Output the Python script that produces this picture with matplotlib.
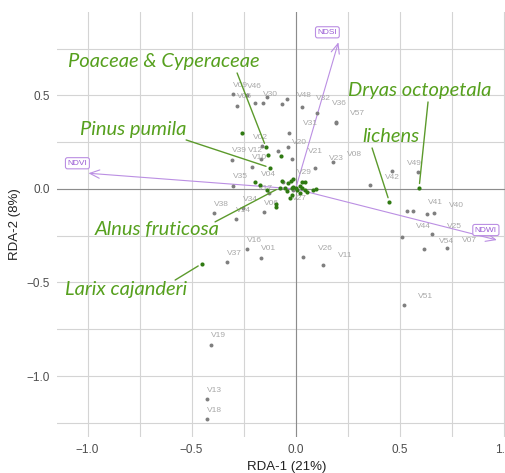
import numpy as np
import matplotlib
matplotlib.use('Agg')
import matplotlib.pyplot as plt

# site scores (RDA-1, RDA-2); empty name = unlabeled site
site_names = ['V09', 'V46', 'V05', '', 'V30', '', '', '', 'V48', 'V32', 'V36', 'V57',
              'V31', '', 'V20', 'V21', 'V23', 'V29', 'V08', 'V42', 'V49', '', '',
              'V41', 'V40', 'V44', 'V25', 'V54', 'V07', 'V51', 'V39', 'V12', 'V10',
              'V02', 'V35', 'V04', 'V17', 'V27', 'V38', 'V34', 'V14', 'V06', 'V16',
              'V37', 'V01', 'V26', 'V11', 'V19', 'V13', 'V18']
site_x = [-0.302, -0.232, -0.283, -0.195, -0.155, -0.136, -0.066, -0.042, 0.030, 0.103, 0.193, 0.195,
          -0.031, -0.086, -0.038, -0.015, 0.182, 0.094, 0.358, 0.462, 0.590, 0.535, 0.563,
          0.634, 0.666, 0.511, 0.655, 0.618, 0.730, 0.522, -0.304, -0.167, -0.211,
          -0.160, -0.302, -0.062, -0.130, -0.012, -0.390, -0.251, -0.288, -0.151, -0.232,
          -0.331, -0.166, 0.035, 0.134, -0.408, -0.424, -0.427]
site_y = [0.506, 0.501, 0.444, 0.461, 0.458, 0.494, 0.453, 0.481, 0.437, 0.405, 0.358, 0.355,
          0.301, 0.203, 0.223, 0.159, 0.146, 0.114, 0.021, 0.096, 0.090, -0.118, -0.118,
          -0.134, -0.130, -0.255, -0.242, -0.321, -0.316, -0.620, 0.155, 0.160, 0.119,
          0.230, 0.016, 0.037, -0.020, -0.005, -0.130, -0.103, -0.162, -0.125, -0.321,
          -0.392, -0.367, -0.365, -0.405, -0.834, -1.125, -1.232]

# species scores
species_x = [-0.066, -0.022, -0.011, -0.038, -0.050, -0.075, -0.042, -0.018, -0.011, 0.001,
             0.006, 0.022, 0.030, 0.030, 0.046, 0.054, 0.086, 0.099, -0.018, -0.026, 0.022,
             -0.094, -0.094, -0.123, -0.259, -0.142, -0.134, -0.071, -0.195, -0.171, -0.136,
             -0.451, 0.451, 0.594, 0.046]
species_y = [0.043, 0.043, 0.052, 0.030, 0.007, 0.007, -0.011, 0.004, 0.012, 0.004,
             -0.005, 0.016, 0.004, 0.039, -0.005, -0.014, -0.005, 0.000, -0.032, -0.050, -0.020,
             -0.082, -0.095, 0.114, 0.300, 0.223, 0.182, 0.176, 0.039, 0.021, -0.005,
             -0.400, -0.068, 0.007, 0.036]

# highlighted species: name, index of species point
highlight_names = ['Poaceae & Cyperaceae', 'Pinus pumila', 'Alnus fruticosa',
                   'Larix cajanderi', 'Dryas octopetala', 'lichens']
highlight_idx = [25, 23, 5, 31, 33, 32]

# environmental vectors
env_names = ['NDVI', 'NDSI', 'NDWI']
env_x = [-0.996, 0.206, 0.968]
env_y = [0.084, 0.784, -0.273]

# --- layout (label placement) ---
label_offsets = {
    'V48': (-5, 12), 'V32': (-1, 15), 'V36': (-4, 18), 'V57': (14, 9), 'V31': (14, 9),
    'V20': (4, 5), 'V21': (16, 8), 'V23': (-4, 3), 'V29': (-18, -5), 'V08': (-23, 31),
    'V42': (-7, -6), 'V49': (-11, 9), 'V41': (1, 12), 'V40': (15, 8), 'V44': (14, 10),
    'V25': (15, 8), 'V54': (15, 8), 'V07': (15, 8), 'V51': (14, 8), 'V12': (-13, 9),
    'V02': (-9, 8), 'V04': (-22, 8), 'V17': (-11, 4), 'V27': (-1, -9), 'V26': (15, 9),
    'V11': (15, 9),
}
highlight_text_pos = [(-1.094, 0.679), (-1.036, 0.316), (-0.964, -0.219),
                      (-1.108, -0.540), (0.252, 0.529), (0.320, 0.278)]
highlight_line_start = [(-0.281, 0.620), (-0.526, 0.262), (-0.387, -0.176),
                        (-0.579, -0.487), (0.637, 0.465), (0.368, 0.219)]

purple = '#bb8fe3'
purple_txt = '#9a5cd4'
green_txt = '#56a01e'
green_pt = '#2f7a12'
green_line = '#5c9a2c'

fig = plt.figure(figsize=(5.05, 4.73), dpi=100)
ax = fig.add_axes([57 / 505, 36 / 473, 459 / 505, 425 / 473])
ax.set_xlim(-1.147, 1.06)
ax.set_ylim(-1.326, 0.946)

ax.set_xticks([-1.0, -0.5, 0.0, 0.5, 1.0])
ax.set_xticks([-0.75, -0.25, 0.25, 0.75], minor=True)
ax.set_yticks([-1.0, -0.5, 0.0, 0.5])
ax.set_yticks([-1.25, -0.75, -0.25, 0.25, 0.75], minor=True)
ax.grid(which='both', color='#d4d4d4', lw=0.8, zorder=0)
ax.set_axisbelow(True)
ax.axhline(0, color='#8c8c8c', lw=0.8, zorder=1)
ax.axvline(0, color='#8c8c8c', lw=0.8, zorder=1)
for s in ax.spines.values():
    s.set_visible(False)
ax.tick_params(which='both', length=0, labelsize=8.5, labelcolor='#4d4d4d')
ax.tick_params(axis='x', pad=5)
ax.tick_params(axis='y', pad=5)
for lab in ax.get_xticklabels() + ax.get_yticklabels():
    lab.set_family('Liberation Sans')

ax.set_xlabel('RDA-1 (21%)', fontsize=9.5, family='Liberation Sans', color='#222222')
ax.set_ylabel('RDA-2 (8%)', fontsize=9.5, family='Liberation Sans', color='#222222')
ax.xaxis.set_label_coords(0.5, -0.057)
ax.yaxis.set_label_coords(-0.078, 0.5)

# environmental arrows
for name, x, y in zip(env_names, env_x, env_y):
    ax.annotate('', xy=(x, y), xytext=(0, 0),
                arrowprops=dict(arrowstyle='->,head_length=0.7,head_width=0.3',
                                color=purple, lw=0.8, shrinkA=0, shrinkB=0), zorder=2)

# sites
ax.scatter(site_x, site_y, s=8, color='#7f7f7f', lw=0, zorder=3)
for name, x, y in zip(site_names, site_x, site_y):
    if not name:
        continue
    dx, dy = label_offsets.get(name, (0, 9))
    ax.annotate(name, (x, y), xytext=(dx, dy), textcoords='offset pixels',
                ha='left', va='center', fontsize=6, color='#a8a8a8',
                family='Liberation Sans', zorder=3)

# highlighted species leader lines and labels
for name, idx, tp, ls in zip(highlight_names, highlight_idx, highlight_text_pos, highlight_line_start):
    ax.annotate('', xy=(species_x[idx], species_y[idx]), xytext=ls,
                arrowprops=dict(arrowstyle='-', color=green_line, lw=1.0,
                                shrinkA=0, shrinkB=3), zorder=4)
    ax.text(tp[0], tp[1], name, ha='left', va='center', fontsize=14.5, style='italic',
            family='Lato', color=green_txt, zorder=6)

ax.scatter(species_x, species_y, s=9, color=green_pt, lw=0, zorder=5)

# environmental labels
for name, x, y in zip(env_names, env_x, env_y):
    ax.annotate(name, (x, y), xytext=(-11, 10), textcoords='offset pixels',
                ha='center', va='center', fontsize=6, color=purple_txt,
                family='Liberation Sans', zorder=7,
                bbox=dict(boxstyle='round,pad=0.25,rounding_size=0.25', fc='white',
                          ec=purple, lw=0.8))

fig.savefig('out.png', dpi=100)
